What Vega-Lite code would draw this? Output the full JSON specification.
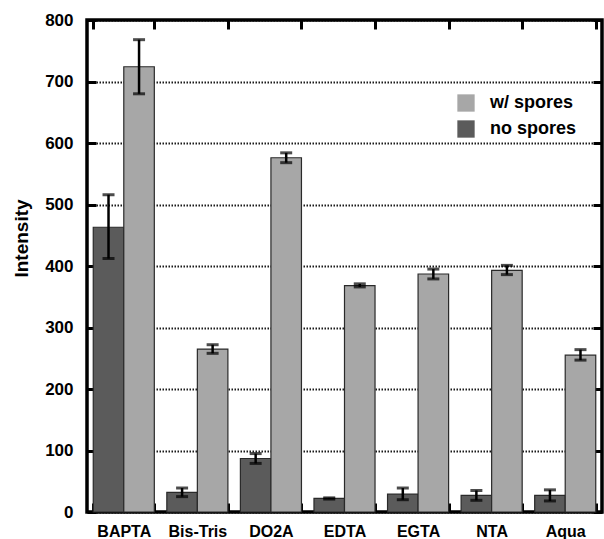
{
  "$schema": "https://vega.github.io/schema/vega-lite/v6.json",
  "width": 515,
  "height": 492,
  "autosize": {"type": "none"},
  "padding": {"left": 87, "top": 20, "right": 2, "bottom": 27},
  "background": "white",
  "config": {
    "font": "Liberation Sans",
    "view": {"stroke": "black", "strokeWidth": 3.5},
    "axis": {"labelFont": "Liberation Sans", "titleFont": "Liberation Sans"}
  },
  "data": {
    "values": [
      {"chelator": "BAPTA", "group": "no spores", "value": 463, "lo": 412, "hi": 516},
      {"chelator": "BAPTA", "group": "w/ spores", "value": 724, "lo": 680, "hi": 768},
      {"chelator": "Bis-Tris", "group": "no spores", "value": 32, "lo": 25, "hi": 39},
      {"chelator": "Bis-Tris", "group": "w/ spores", "value": 265, "lo": 258, "hi": 272},
      {"chelator": "DO2A", "group": "no spores", "value": 87, "lo": 79, "hi": 95},
      {"chelator": "DO2A", "group": "w/ spores", "value": 576, "lo": 568, "hi": 584},
      {"chelator": "EDTA", "group": "no spores", "value": 22, "lo": 21, "hi": 23},
      {"chelator": "EDTA", "group": "w/ spores", "value": 368, "lo": 366, "hi": 371},
      {"chelator": "EGTA", "group": "no spores", "value": 29, "lo": 20, "hi": 39},
      {"chelator": "EGTA", "group": "w/ spores", "value": 387, "lo": 379, "hi": 395},
      {"chelator": "NTA", "group": "no spores", "value": 27, "lo": 19, "hi": 35},
      {"chelator": "NTA", "group": "w/ spores", "value": 393, "lo": 386, "hi": 401},
      {"chelator": "Aqua", "group": "no spores", "value": 27, "lo": 18, "hi": 36},
      {"chelator": "Aqua", "group": "w/ spores", "value": 255, "lo": 247, "hi": 264}
    ]
  },
  "encoding": {
    "x": {
      "field": "chelator",
      "type": "nominal",
      "sort": null,
      "scale": {"paddingInner": 0.17, "paddingOuter": 0.085}
    },
    "xOffset": {
      "field": "group",
      "type": "nominal",
      "scale": {"domain": ["no spores", "w/ spores"], "padding": 0}
    }
  },
  "layer": [
    {
      "mark": {"type": "bar", "stroke": "#2a2a2a", "strokeWidth": 1.2},
      "encoding": {
        "x": {
          "field": "chelator",
          "type": "nominal",
          "sort": null,
          "scale": {"paddingInner": 0.17, "paddingOuter": 0.085},
          "axis": {
            "orient": "bottom",
            "title": null,
            "offset": -9,
            "domain": false,
            "labelAngle": 0,
            "labelFontSize": 16,
            "labelFontWeight": "bold",
            "labelColor": "black",
            "labelPadding": 11,
            "tickBand": "extent",
            "tickSize": 9,
            "tickWidth": 3,
            "tickColor": "black"
          }
        },
        "y": {
          "field": "value",
          "type": "quantitative",
          "scale": {"domain": [0, 800], "nice": false},
          "axis": {
            "orient": "left",
            "title": "Intensity",
            "offset": -9,
            "domain": false,
            "titleFontSize": 19,
            "titleFontWeight": "bold",
            "titleColor": "black",
            "titleAngle": 270,
            "titleX": -75,
            "titleY": 218,
            "titleAlign": "center",
            "titleBaseline": "middle",
            "values": [0, 100, 200, 300, 400, 500, 600, 700, 800],
            "labelFontSize": 17,
            "labelFontWeight": "bold",
            "labelColor": "black",
            "labelPadding": 14,
            "tickSize": 9,
            "tickWidth": 3,
            "tickColor": "black",
            "grid": true,
            "gridColor": "black",
            "gridWidth": 2,
            "gridDash": [1.5, 1.5],
            "gridOpacity": 0.9
          }
        },
        "color": {
          "field": "group",
          "type": "nominal",
          "scale": {"domain": ["w/ spores", "no spores"], "range": ["#a7a7a7", "#5b5b5b"]},
          "legend": {
            "orient": "none",
            "legendX": 370,
            "legendY": 74,
            "title": null,
            "symbolType": "square",
            "symbolSize": 300,
            "symbolStrokeWidth": 0,
            "symbolOpacity": 1,
            "labelFontSize": 18,
            "labelFontWeight": "bold",
            "labelColor": "black",
            "labelOffset": 15,
            "rowPadding": 8
          }
        }
      }
    },
    {
      "mark": {"type": "rule", "color": "black", "strokeWidth": 2.5},
      "encoding": {
        "x": {
          "field": "chelator",
          "type": "nominal",
          "sort": null,
          "scale": {"paddingInner": 0.17, "paddingOuter": 0.085},
          "axis": {
            "orient": "top",
            "title": null,
            "offset": -9,
            "labels": false,
            "domain": false,
            "tickBand": "extent",
            "tickSize": 9,
            "tickWidth": 3,
            "tickColor": "black"
          }
        },
        "y": {
          "field": "lo",
          "type": "quantitative",
          "scale": {"domain": [0, 800], "nice": false},
          "axis": {
            "orient": "right",
            "title": null,
            "offset": -9,
            "labels": false,
            "domain": false,
            "grid": false,
            "values": [0, 100, 200, 300, 400, 500, 600, 700, 800],
            "tickSize": 9,
            "tickWidth": 3,
            "tickColor": "black"
          }
        },
        "y2": {"field": "hi"}
      }
    },
    {
      "mark": {"type": "tick", "color": "black", "size": 12, "thickness": 3},
      "encoding": {
        "x": {"field": "chelator", "type": "nominal", "sort": null, "axis": null},
        "y": {"field": "lo", "type": "quantitative", "axis": null}
      }
    },
    {
      "mark": {"type": "tick", "color": "black", "size": 12, "thickness": 3},
      "encoding": {
        "x": {"field": "chelator", "type": "nominal", "sort": null, "axis": null},
        "y": {"field": "hi", "type": "quantitative", "axis": null}
      }
    }
  ],
  "resolve": {"axis": {"x": "independent", "y": "independent"}}
}
